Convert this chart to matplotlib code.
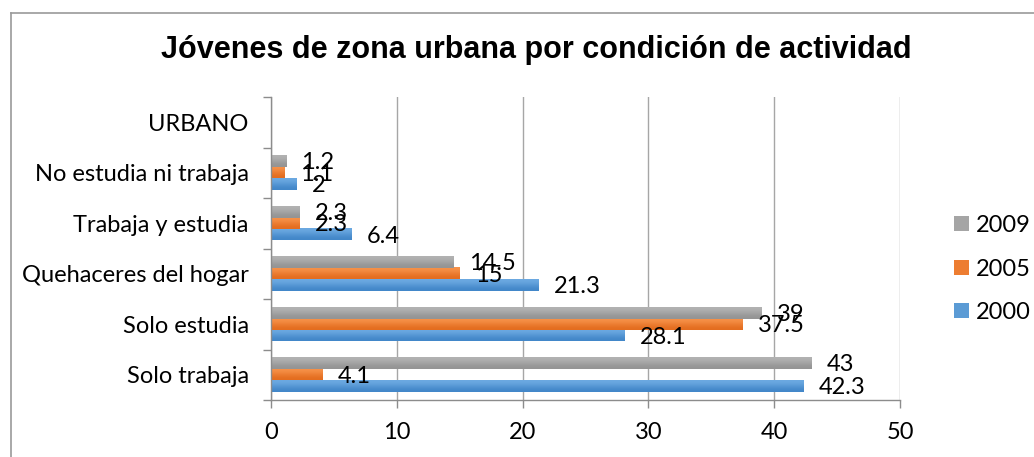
import numpy as np
import matplotlib
matplotlib.use("Agg")
import matplotlib.pyplot as plt
from matplotlib.colors import LinearSegmentedColormap
from matplotlib.lines import Line2D
from matplotlib.patches import Patch

# chart data (bottom to top as drawn)
categories = ["Solo trabaja", "Solo estudia", "Quehaceres del hogar",
              "Trabaja y estudia", "No estudia ni trabaja", "URBANO"]
v2000 = [42.3, 28.1, 21.3, 6.4, 2, np.nan]
v2005 = [4.1, 37.5, 15, 2.3, 1.1, np.nan]
v2009 = [43, 39, 14.5, 2.3, 1.2, np.nan]
series_names = ["2000", "2005", "2009"]
x_ticks = [0, 10, 20, 30, 40, 50]

# (top colour, bottom colour, legend colour)
colors = {
    "2000": ("#6daae2", "#4186c8", "#5b9bd5"),
    "2005": ("#f7924a", "#e36c1e", "#ed7d31"),
    "2009": ("#b3b3b3", "#939393", "#a5a5a5"),
}

text_font = "Lato"
fs = 17

fig = plt.figure(figsize=(10.34, 4.57), dpi=100)
ax = fig.add_axes([271 / 1034, 1 - 400 / 457, 629 / 1034, 303 / 457])

y = np.arange(len(categories))
h = 0.225
offsets = {"2000": -h, "2005": 0.0, "2009": h}
values = {"2000": v2000, "2005": v2005, "2009": v2009}

for name in series_names:
    vals = values[name]
    bars = ax.barh(y + offsets[name], vals, height=h, color="none",
                   edgecolor="none", zorder=3)
    top, bottom, _ = colors[name]
    cmap = LinearSegmentedColormap.from_list(name, [bottom, top])
    for patch, v in zip(bars.patches, vals):
        if np.isnan(v):
            continue
        x0, y0 = patch.get_x(), patch.get_y()
        ax.imshow([[0.0], [1.0]], cmap=cmap, origin="lower", aspect="auto",
                  extent=(x0, x0 + patch.get_width(), y0, y0 + patch.get_height()),
                  interpolation="bicubic", zorder=3)
        ax.annotate(f"{v:g}", (v, y0 + patch.get_height() / 2),
                    xytext=(11, -1), textcoords="offset points",
                    ha="left", va="center", fontsize=fs, family=text_font,
                    color="black", zorder=5)

ax.set_xlim(0, 50)
ax.set_ylim(-0.5, len(categories) - 0.5)
ax.set_aspect("auto")

ax.set_xticks(x_ticks)
ax.set_xticklabels([str(t) for t in x_ticks], fontsize=fs, family=text_font)
ax.set_yticks(y)
ax.set_yticklabels(categories, fontsize=fs, family=text_font)
ax.set_yticks(np.arange(len(categories) + 1) - 0.5, minor=True)

ax.tick_params(axis="y", which="major", length=0, pad=16)
ax.tick_params(axis="y", which="minor", length=6, width=1, color="#8c8c8c",
               direction="out")
ax.tick_params(axis="x", which="major", length=6, width=1, color="#8c8c8c",
               direction="out", pad=10)

ax.grid(axis="x", color="#a6a6a6", linewidth=1, zorder=0)
for side in ["top", "right"]:
    ax.spines[side].set_visible(False)
for side in ["left", "bottom"]:
    ax.spines[side].set_color("#8c8c8c")
    ax.spines[side].set_linewidth(1)
    ax.spines[side].set_zorder(4)

fig.text(0.519, 1 - 50 / 457, "Jóvenes de zona urbana por condición de actividad",
         ha="center", va="center", fontsize=22, fontweight="bold",
         family="Liberation Sans")

handles = [Patch(facecolor=colors[n][2], edgecolor="none") for n in reversed(series_names)]
fig.legend(handles, list(reversed(series_names)), loc="center left",
           bbox_to_anchor=(945 / 1034, 1 - 269 / 457), frameon=False,
           prop={"family": text_font, "size": fs},
           handlelength=0.6, handleheight=0.6, handletextpad=0.3,
           labelspacing=0.95, borderaxespad=0)

# outer chart border (partly outside the image)
fig.add_artist(Line2D([10.5 / 1034, 10.5 / 1034], [0, 1 - 12.5 / 457],
                      transform=fig.transFigure, color="#9a9a9a", lw=1.2))
fig.add_artist(Line2D([10.5 / 1034, 1], [1 - 12.5 / 457, 1 - 12.5 / 457],
                      transform=fig.transFigure, color="#9a9a9a", lw=1.2))

fig.savefig("out.png", dpi=100)
